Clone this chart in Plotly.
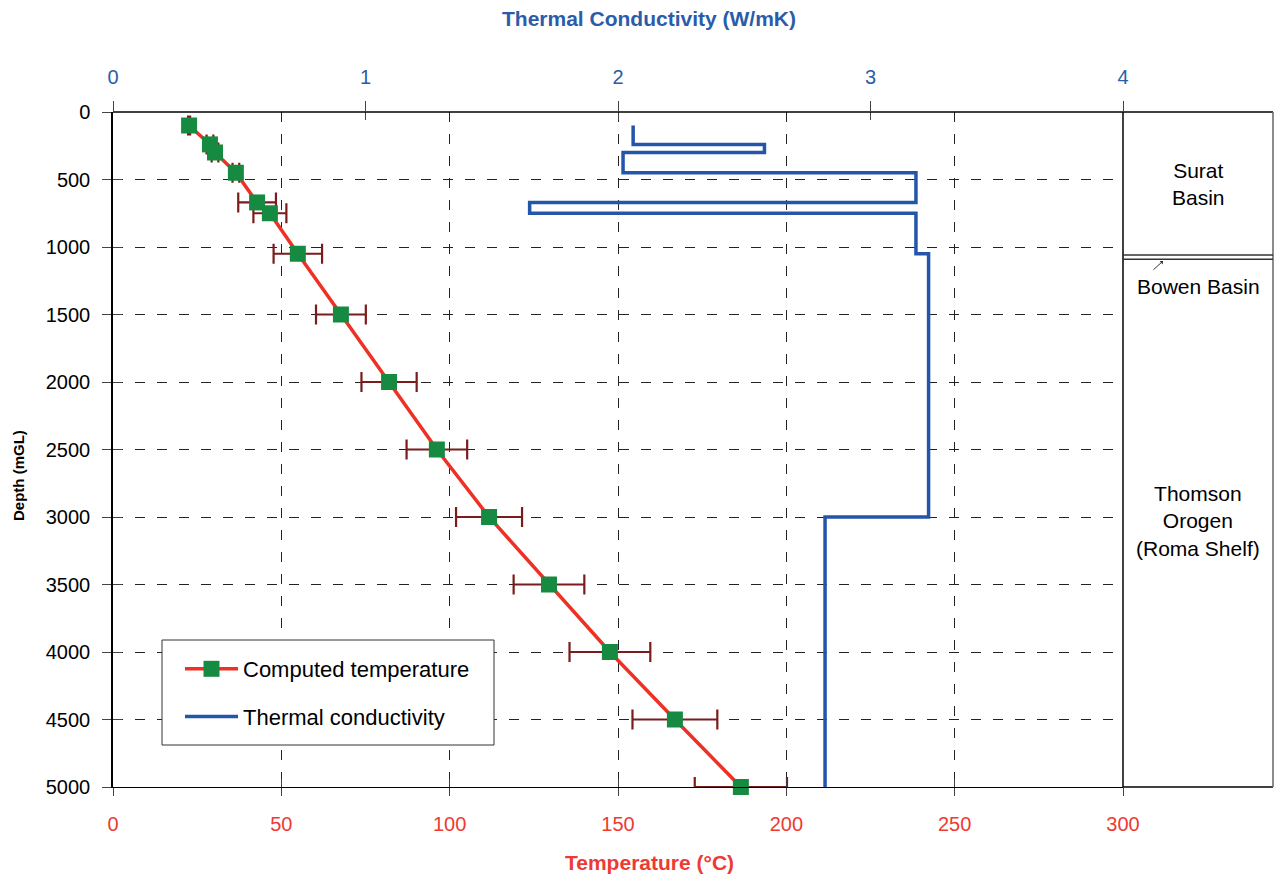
import plotly.graph_objects as go

# Computed temperature profile (depth in mGL, temperature in °C, +/- uncertainty)
depth_pts = [100, 240, 300, 450, 670, 750, 1050, 1500, 2000, 2500, 3000, 3500, 4000, 4500, 5000]
temperature = [22.6, 28.8, 30.3, 36.5, 42.8, 46.6, 54.9, 67.7, 82.0, 96.2, 111.7, 129.5, 147.6, 166.9, 186.5]
temp_err = [0.3, 1.0, 1.0, 1.0, 5.6, 4.9, 7.2, 7.4, 8.2, 9.0, 9.8, 10.5, 12.0, 12.6, 13.7]

# Thermal conductivity layers (top/bottom depth, W/mK)
k_top = [100, 240, 300, 450, 670, 750, 1050, 3000]
k_bottom = [240, 300, 450, 670, 750, 1050, 3000, 5000]
k_value = [2.06, 2.58, 2.02, 3.18, 1.65, 3.18, 3.23, 2.82]

# Stratigraphic units shown in the side column
unit_names = ["Surat<br>Basin", "Thomson<br>Orogen<br>(Roma Shelf)"]
unit_label_depth = [535, 3030]
bowen_top, bowen_bottom = 1060, 1090
bowen_label = "Bowen Basin"

temp_ticks = [0, 50, 100, 150, 200, 250, 300]
k_ticks = [0, 1, 2, 3, 4]
depth_ticks = list(range(0, 5001, 500))

RED = "#ee3a33"
BLUE = "#2a5caa"
FONT = "Arial, Liberation Sans, sans-serif"

W, H = 1274, 876
ML, MR, MT, MB = 113, 1, 112, 89
PW, PH = W - ML - MR, H - MT - MB


def px_x(x):
    """page x pixel -> paper fraction"""
    return (x - ML) / PW


def px_y(y):
    """page y pixel -> paper fraction"""
    return (MT + PH - y) / PH


# step path through the conductivity layers
k_x, k_y = [], []
for top, bot, k in zip(k_top, k_bottom, k_value):
    k_x += [k, k]
    k_y += [top, bot]

fig = go.Figure()

fig.add_trace(go.Scatter(
    x=temperature, y=depth_pts, mode="lines+markers", name="Computed temperature",
    line=dict(color="#ee3124", width=3.5),
    marker=dict(symbol="square", size=16, color="#178a41", line=dict(width=0)),
    error_x=dict(type="data", array=temp_err, color="#7a1c1c", thickness=2.2, width=10),
    xaxis="x", yaxis="y", legendgroup="a", cliponaxis=False,
))
fig.add_trace(go.Scatter(
    x=k_x, y=k_y, mode="lines", name="Thermal conductivity",
    line=dict(color="#2356a8", width=3.5),
    xaxis="x2", yaxis="y", legendgroup="b",
))

dom = [0, 1010 / PW]
grid = dict(gridcolor="#222222", gridwidth=1, griddash="10px,12px")

fig.update_layout(
    width=W, height=H,
    margin=dict(l=ML, r=MR, t=MT, b=MB, autoexpand=False),
    paper_bgcolor="white", plot_bgcolor="white",
    font=dict(family=FONT, size=20, color="black"),
    showlegend=True,
    legend=dict(
        x=px_x(180), y=px_y(648), xanchor="left", yanchor="top",
        bgcolor="rgba(0,0,0,0)", borderwidth=0,
        font=dict(size=22), tracegroupgap=16, traceorder="grouped",
        itemwidth=53,
    ),
    xaxis=dict(
        domain=dom, range=[0, 300], tickvals=temp_ticks, side="bottom",
        showline=True, linecolor="black", linewidth=1,
        ticks="outside", ticklen=8, tickcolor="#444444",
        tickfont=dict(color=RED, size=20), ticklabelstandoff=11,
        showgrid=True, zeroline=False, **grid,
    ),
    xaxis2=dict(
        domain=dom, range=[0, 4], tickvals=k_ticks, side="top", overlaying="x", anchor="y",
        showline=False, ticks="outside", ticklen=10, tickcolor="#444444",
        tickfont=dict(color=BLUE, size=20), ticklabelstandoff=9,
        showgrid=False, zeroline=False,
    ),
    xaxis3=dict(
        domain=dom, range=[0, 300], tickvals=temp_ticks, side="bottom", overlaying="x", anchor="y",
        ticks="inside", ticklen=8, tickcolor="#444444", showticklabels=False,
        showgrid=False, zeroline=False, showline=False,
    ),
    xaxis4=dict(
        domain=dom, range=[0, 4], tickvals=k_ticks, side="top", overlaying="x", anchor="y",
        ticks="inside", ticklen=8, tickcolor="#444444", showticklabels=False,
        showgrid=False, zeroline=False, showline=False,
    ),
    yaxis=dict(
        domain=[0, 1], range=[5000, 0], tickvals=depth_ticks,
        showline=True, linecolor="black", linewidth=1.5,
        ticks="outside", ticklen=9, tickcolor="#444444",
        tickfont=dict(color="black", size=20), ticklabelstandoff=8,
        showgrid=True, zeroline=False, **grid,
    ),
    yaxis2=dict(
        domain=[0, 1], range=[5000, 0], tickvals=depth_ticks, overlaying="y", side="left", anchor="x",
        ticks="inside", ticklen=9, tickcolor="#444444", showticklabels=False,
        showgrid=False, zeroline=False, showline=False,
    ),
)

# keep the tick-only overlay axes alive with empty traces
fig.add_trace(go.Scatter(x=[], y=[], xaxis="x3", yaxis="y2", showlegend=False, hoverinfo="skip"))
fig.add_trace(go.Scatter(x=[], y=[], xaxis="x4", yaxis="y", showlegend=False, hoverinfo="skip"))

# legend frame (opaque box behind the legend entries)
fig.add_shape(type="rect", xref="paper", yref="paper", layer="above",
              x0=px_x(162), x1=px_x(494), y0=px_y(745), y1=px_y(640),
              fillcolor="white", line=dict(color="#333333", width=1))

# axis titles
title_x = px_x(649)
fig.add_annotation(x=title_x, y=px_y(862), xref="paper", yref="paper",
                   xanchor="center", yanchor="middle",
                   text="<b>Temperature (°C)</b>", showarrow=False,
                   font=dict(size=21, color=RED, family=FONT))
fig.add_annotation(x=title_x, y=px_y(18), xref="paper", yref="paper",
                   xanchor="center", yanchor="middle",
                   text="<b>Thermal Conductivity (W/mK)</b>", showarrow=False,
                   font=dict(size=21, color=BLUE, family=FONT))
fig.add_annotation(x=px_x(18), y=px_y(476), xref="paper", yref="paper",
                   xanchor="center", yanchor="middle",
                   text="<b>Depth (mGL)</b>", showarrow=False, textangle=-90,
                   font=dict(size=15, color="black", family=FONT))

col_left = dom[1]
line_style = dict(color="black", width=1.5)
# frame: top line across, bottom line of side column, side column box
fig.add_shape(type="line", xref="paper", yref="paper", x0=0, x1=1, y0=1, y1=1, line=line_style)
fig.add_shape(type="line", xref="paper", yref="paper", x0=col_left, x1=1, y0=0, y1=0, line=line_style)
fig.add_shape(type="line", xref="paper", yref="paper", x0=col_left, x1=col_left, y0=0, y1=1, line=line_style)
fig.add_shape(type="line", xref="paper", yref="paper", x0=1, x1=1, y0=0, y1=1,
              line=dict(color="#666666", width=1.5))
for d in (bowen_top, bowen_bottom):
    fig.add_shape(type="line", xref="paper", yref="y", x0=col_left, x1=1, y0=d, y1=d,
                  line=dict(color="#333333", width=1.5))

col_mid = (col_left + 1) / 2
for name, d in zip(unit_names, unit_label_depth):
    fig.add_annotation(x=col_mid, y=d, xref="paper", yref="y", text=name, showarrow=False,
                       xanchor="center", yanchor="middle",
                       font=dict(size=21, color="black", family=FONT), align="center")
fig.add_annotation(x=col_mid, y=1290, xref="paper", yref="y", text=bowen_label, showarrow=False,
                   xanchor="center", yanchor="middle",
                   font=dict(size=21, color="black", family=FONT))
fig.add_annotation(x=px_x(1163), y=1104, xref="paper", yref="y", text="",
                   showarrow=True, arrowhead=1, arrowsize=0.8, arrowwidth=1, arrowcolor="#333333",
                   ax=-11, ay=10)

fig.write_html("out.html")
